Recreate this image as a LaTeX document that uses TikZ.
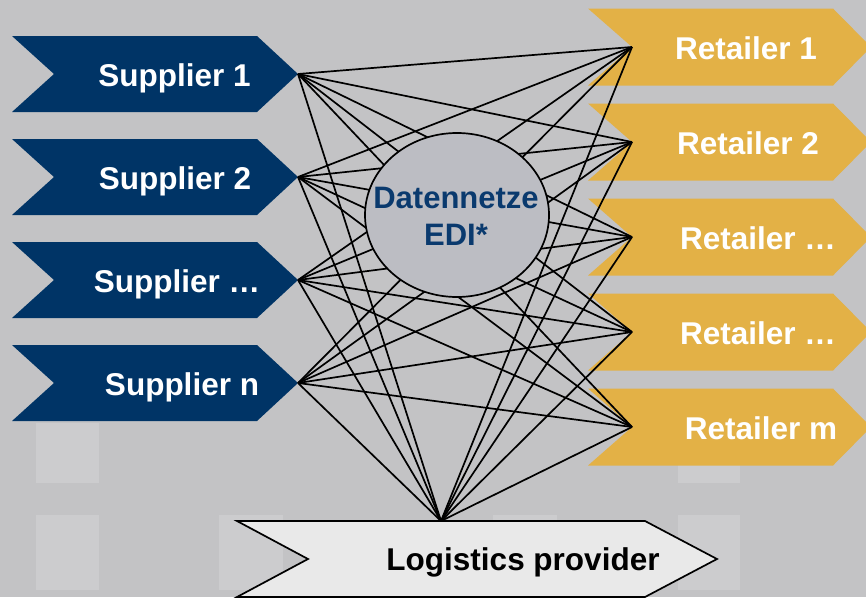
\documentclass[tikz,border=0pt]{standalone}
\usepackage{fontspec}
\setmainfont{Liberation Sans}
\definecolor{bgc}{HTML}{C3C3C5}
\definecolor{sqc}{HTML}{CCCCCE}
\definecolor{navy}{HTML}{003466}
\definecolor{gold}{HTML}{E3B146}
\definecolor{logc}{HTML}{E9E9E9}
\definecolor{ellc}{HTML}{BCBDC3}
\definecolor{edit}{HTML}{0A3A6E}
\tikzset{
  lbl/.style={anchor=base, inner sep=0pt, font=\fontsize{31.5}{36}\selectfont\bfseries},
  wlbl/.style={lbl, text=white},
  conn/.style={draw=black, line width=1.7pt},
  sq/.style={fill=sqc},
}
\begin{document}
\begin{tikzpicture}[x=1pt,y=-1pt]
\useasboundingbox (0,0) rectangle (866,597);
\fill[bgc] (0,0) rectangle (866,597);
% faint squares
\fill[sq] (36,423) rectangle (99,483);
\fill[sq] (678,423) rectangle (740,483);
\fill[sq] (36,515) rectangle (99,590);
\fill[sq] (219,515) rectangle (283,590);
\fill[sq] (493,515) rectangle (557,590);
\fill[sq] (678,515) rectangle (740,590);
% suppliers
\foreach \y/\n in {74/1,177/2,280/3,383/4}{
  \fill[navy] (12,\y-38) -- (257,\y-38) -- (298,\y) -- (257,\y+38) -- (12,\y+38) -- (54,\y) -- cycle;
  \coordinate (s\n) at (298,\y);
}
% retailers
\foreach \y/\n in {47/1,142/2,237/3,332/4,427/5}{
  \fill[gold] (588,\y-38.5) -- (833,\y-38.5) -- (871,\y) -- (833,\y+38.5) -- (588,\y+38.5) -- (632,\y) -- cycle;
  \coordinate (r\n) at (632,\y);
}
% logistics
\draw[fill=logc, line width=1.7pt] (237,521) -- (645,521) -- (717,559) -- (645,597) -- (237,597) -- (308,559) -- cycle;
\coordinate (lp) at (441,521);
% connectors
\foreach \s in {1,...,4}{
  \foreach \r in {1,...,5}{
    \draw[conn] (s\s) -- (r\r);
  }
  \draw[conn] (s\s) -- (lp);
}
\foreach \r in {1,...,5}{
  \draw[conn] (r\r) -- (lp);
}
% ellipse
\draw[fill=ellc, line width=1.7pt] (457,215) ellipse [x radius=92, y radius=82];
\node[lbl, text=edit, font=\fontsize{31}{36}\selectfont\bfseries] (edi1) at (456,208) {Datennetze};
\node[lbl, text=edit, font=\fontsize{31}{36}\selectfont\bfseries] (edi2) at (456,245) {EDI*};
% labels
\node[wlbl] (ts1) at (174.5,86) {Supplier 1};
\node[wlbl] (ts2) at (175,189) {Supplier 2};
\node[wlbl] (ts3) at (177,292) {Supplier …};
\node[wlbl] (ts4) at (182,395) {Supplier n};
\node[wlbl] (tr1) at (746,59) {Retailer 1};
\node[wlbl] (tr2) at (748,154) {Retailer 2};
\node[wlbl] (tr3) at (758,249) {Retailer …};
\node[wlbl] (tr4) at (758,344) {Retailer …};
\node[wlbl] (tr5) at (761,439) {Retailer m};
\node[lbl] (tl) at (523,570) {Logistics provider};
\end{tikzpicture}
\end{document}
